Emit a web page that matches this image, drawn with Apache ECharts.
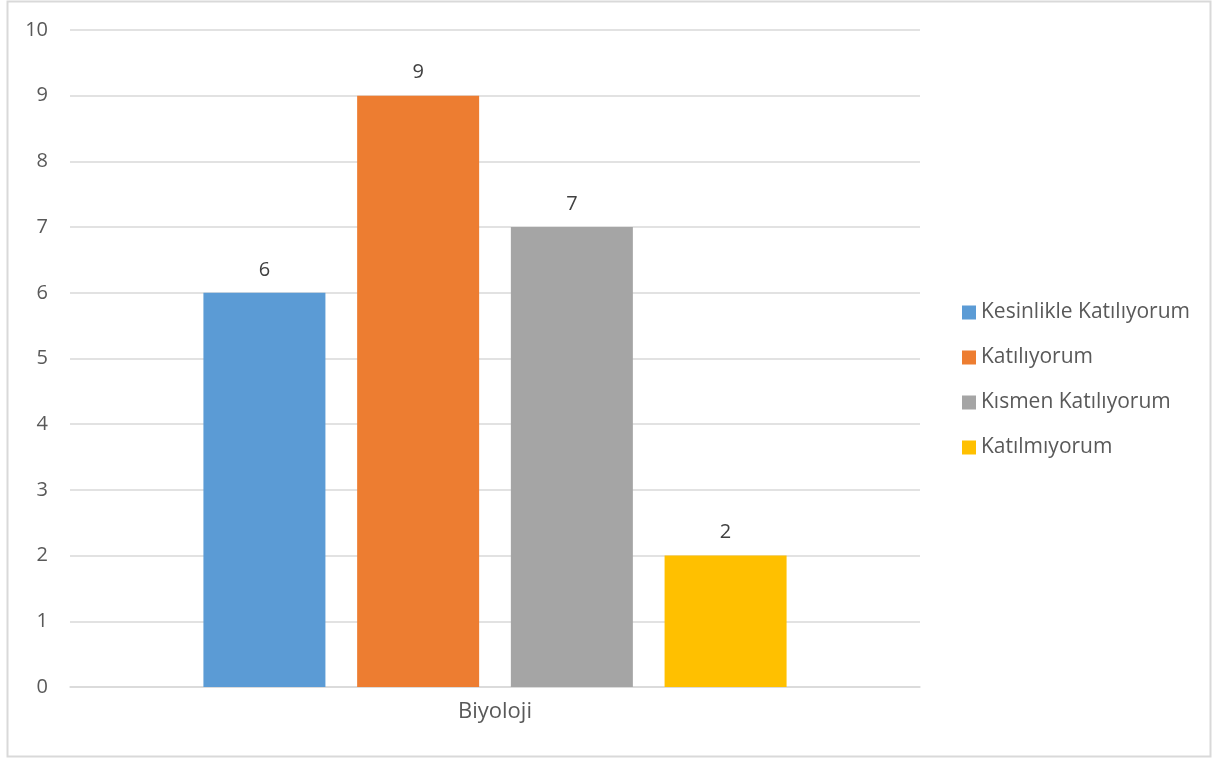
<!DOCTYPE html>
<html><head><meta charset="utf-8">
<script src="https://cdn.jsdelivr.net/npm/echarts@6/dist/echarts.min.js"></script>
<style>html,body{margin:0;padding:0;background:#fff}#c{width:1217px;height:758px}</style>
</head><body><div id="c"></div>
<script>
const categories = ['Biyoloji'];
const seriesNames = ['Kesinlikle Katılıyorum', 'Katılıyorum', 'Kısmen Katılıyorum', 'Katılmıyorum'];
const seriesValues = [[6], [9], [7], [2]];
const colors = ['#5b9bd5', '#ed7d31', '#a5a5a5', '#ffc000'];
const font = "'Open Sans', sans-serif";
const chart = echarts.init(document.getElementById('c'));
chart.setOption({
  animation: false,
  textStyle: {fontFamily: font},
  graphic: [{type: 'rect', shape: {x: 7.5, y: 1.5, width: 1203, height: 755}, style: {fill: 'none', stroke: '#d9d9d9', lineWidth: 2}, silent: true}],
  grid: {left: 70, right: 297, top: 30, bottom: 71},
  legend: {
    orient: 'vertical', left: 957, top: 297,
    itemWidth: 14, itemHeight: 14, itemGap: 24,
    icon: 'rect',
    textStyle: {fontSize: 21, color: '#595959', fontFamily: font},
    data: seriesNames
  },
  xAxis: {
    type: 'category', data: categories,
    axisLine: {lineStyle: {color: '#d9d9d9', width: 1.5}},
    axisTick: {show: false},
    axisLabel: {fontSize: 22, color: '#595959', margin: 14, fontFamily: font}
  },
  yAxis: {
    type: 'value', min: 0, max: 10, interval: 1,
    axisLine: {show: false}, axisTick: {show: false},
    splitLine: {lineStyle: {color: '#d9d9d9', width: 1.5}},
    axisLabel: {fontSize: 20, color: '#595959', margin: 22, fontFamily: font}
  },
  series: seriesNames.map((n, i) => ({
    name: n, type: 'bar', data: seriesValues[i],
    barWidth: 122, barGap: '26%',
    itemStyle: {color: colors[i]},
    label: {show: true, position: 'top', distance: 13, fontSize: 20, color: '#404040', fontFamily: font}
  }))
});
</script></body></html>
